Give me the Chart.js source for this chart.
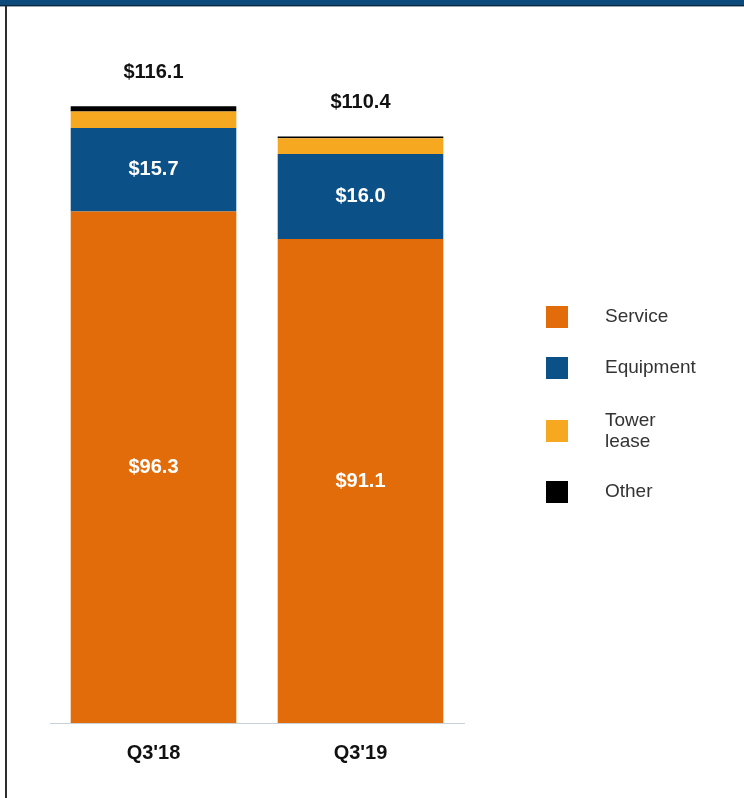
<!DOCTYPE html>
<html>
<head>
<meta charset="utf-8">
<script src="https://cdn.jsdelivr.net/npm/chart.js@4/dist/chart.umd.min.js"></script>
<style>
  html, body { margin: 0; padding: 0; background: #ffffff; }
  #wrap { position: relative; width: 744px; height: 798px; overflow: hidden; }
  #topband { position: absolute; left: 0; top: 0; width: 744px; height: 5px; background: #0c4a7c; border-bottom: 1px solid #0a2740; }
  #topline { position: absolute; left: 0; top: 6px; width: 744px; height: 1px; background: #9aa6b2; }
  #leftline { position: absolute; left: 5px; top: 6px; width: 2px; height: 792px; background: #2e2e2e; }
  canvas { position: absolute; left: 0; top: 0; }
</style>
</head>
<body>
<div id="wrap">
  <canvas id="c" width="744" height="798"></canvas>
  <div id="topband"></div>
  <div id="topline"></div>
  <div id="leftline"></div>
</div>
<script>
// Quarterly revenue ($ billions) by component
const quarters = ["Q3'18", "Q3'19"];
const service = [96.3, 91.1];
const equipment = [15.7, 16.0];
const towerLease = [3.1, 3.0];
const other = [1.0, 0.3];

const seriesNames = ['Service', 'Equipment', 'Tower lease', 'Other'];
const legendLines = [['Service'], ['Equipment'], ['Tower', 'lease'], ['Other']];
const seriesColors = ['#e36c0a', '#0b5086', '#f6a821', '#000000'];
const labelledSeries = [0, 1]; // segments that carry an inside value label

const FONT = '"Liberation Sans", Arial, sans-serif';
const fmt = v => '$' + v.toFixed(1);

const seriesValues = [service, equipment, towerLease, other];

const valueLabels = {
  id: 'valueLabels',
  afterDatasetsDraw(chart) {
    const ctx = chart.ctx;
    ctx.save();
    ctx.textAlign = 'center';
    ctx.textBaseline = 'middle';
    // inside segment labels
    ctx.font = 'bold 20px ' + FONT;
    ctx.fillStyle = '#ffffff';
    labelledSeries.forEach(di => {
      const meta = chart.getDatasetMeta(di);
      meta.data.forEach((bar, i) => {
        const v = chart.data.datasets[di].data[i];
        const y = (bar.y + bar.base) / 2;
        ctx.fillText(fmt(v), bar.x, y);
      });
    });
    // totals above each stack
    ctx.fillStyle = '#111111';
    const last = chart.getDatasetMeta(chart.data.datasets.length - 1);
    chart.data.labels.forEach((_, i) => {
      const total = chart.data.datasets.reduce((s, d) => s + d.data[i], 0);
      const bar = last.data[i];
      ctx.fillText(fmt(total), bar.x, bar.y - 34);
    });
    ctx.restore();
  }
};

const sideLegend = {
  id: 'sideLegend',
  afterDraw(chart) {
    const ctx = chart.ctx;
    ctx.save();
    const boxX = 546, box = 22, textX = 605, lineH = 21;
    const centers = [317, 368, 431, 492];
    ctx.font = '19px ' + FONT;
    ctx.textBaseline = 'middle';
    ctx.textAlign = 'left';
    chart.data.datasets.forEach((ds, i) => {
      const cy = centers[i];
      ctx.fillStyle = ds.backgroundColor;
      ctx.fillRect(boxX, cy - box / 2, box, box);
      ctx.fillStyle = '#333333';
      const lines = legendLines[i];
      const startY = cy - (lines.length - 1) * lineH / 2;
      lines.forEach((t, k) => ctx.fillText(t, textX, startY + k * lineH));
    });
    ctx.restore();
  }
};

new Chart(document.getElementById('c'), {
  type: 'bar',
  data: {
    labels: quarters,
    datasets: seriesValues.map((vals, i) => ({
      label: seriesNames[i],
      data: vals,
      backgroundColor: seriesColors[i],
      borderWidth: 0,
      categoryPercentage: 0.8,
      barPercentage: 1.0
    }))
  },
  options: {
    responsive: false,
    animation: false,
    devicePixelRatio: 1,
    layout: { padding: { left: 50, right: 280, top: 59, bottom: 0 } },
    plugins: {
      legend: { display: false },
      tooltip: { enabled: false }
    },
    scales: {
      x: {
        stacked: true,
        grid: { display: false, drawTicks: false },
        border: { display: true, color: '#c8d0d8', width: 1 },
        ticks: {
          padding: 18,
          color: '#111111',
          font: { family: FONT, size: 20, weight: 'bold' }
        },
        afterFit(scale) { scale.height = 75; }
      },
      y: {
        stacked: true,
        display: false,
        min: 0,
        max: 125
      }
    }
  },
  plugins: [valueLabels, sideLegend]
});
</script>
</body>
</html>
